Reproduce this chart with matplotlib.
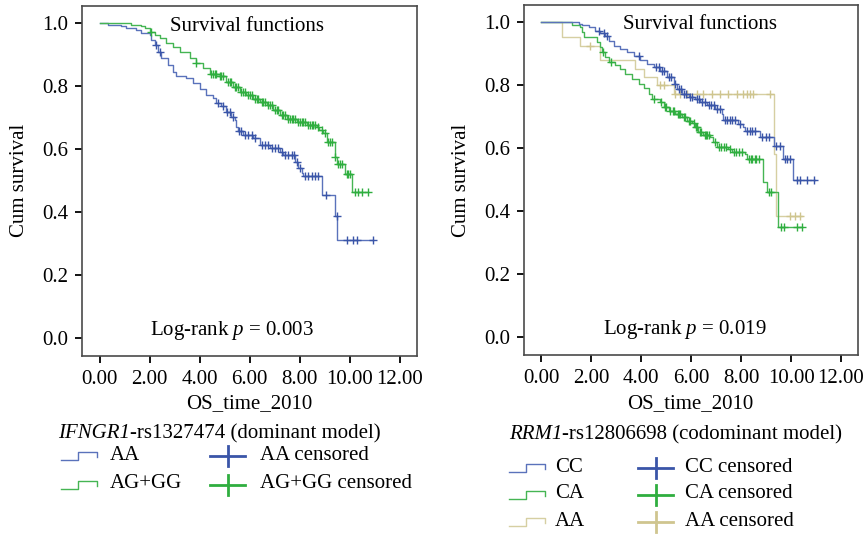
import numpy as np
import matplotlib
matplotlib.use("Agg")
import matplotlib.pyplot as plt

plt.rcParams['font.family'] = ['Liberation Serif', 'DejaVu Serif']
plt.rcParams['mathtext.fontset'] = 'custom'
plt.rcParams['mathtext.rm'] = 'Liberation Serif'
plt.rcParams['mathtext.it'] = 'Liberation Serif:italic'

# ---------------- data: left panel (IFNGR1-rs1327474) ----------------
aa_t = [0, 0.33, 0.87, 1.07, 1.47, 1.67, 2.0, 2.07, 2.2, 2.33, 2.47, 2.73, 2.93, 3.07, 3.47,
        3.73, 4.0, 4.27, 4.53, 4.67, 4.87, 5.07, 5.27, 5.4, 5.47, 5.53, 5.73, 6.13, 6.4, 6.8,
        7.2, 7.33, 7.8, 7.93, 8.07, 8.13, 8.87, 9.4, 9.49]
aa_s = [1.0, 0.995, 0.99, 0.983, 0.978, 0.967, 0.962, 0.946, 0.930, 0.909, 0.888, 0.867, 0.846,
        0.832, 0.824, 0.808, 0.792, 0.771, 0.761, 0.745, 0.735, 0.719, 0.703, 0.692, 0.671, 0.656,
        0.644, 0.634, 0.613, 0.602, 0.591, 0.581, 0.560, 0.539, 0.523, 0.513, 0.454, 0.387, 0.311]
aa_end = 10.93
aa_cens = [2.24, 2.4, 4.73, 4.93, 5.1, 5.2, 5.33, 5.57, 5.67, 5.8, 5.93, 6.07, 6.2, 6.47, 6.6,
           6.73, 6.87, 7.0, 7.13, 7.27, 7.4, 7.53, 7.67, 7.75, 7.87, 8.0, 8.2, 8.33, 8.47, 8.6,
           8.73, 9.04, 9.47, 9.87, 10.13, 10.27, 10.93]

ag_t = [0, 1.27, 1.67, 1.8, 2.0, 2.2, 2.4, 2.67, 2.93, 3.2, 3.6, 3.87, 4.13, 4.4, 4.8, 5.07,
        5.33, 5.6, 5.87, 6.13, 6.4, 6.67, 6.93, 7.2, 7.47, 7.87, 8.27, 8.67, 8.77, 8.93, 9.07,
        9.4, 9.47, 9.8, 10.1]
ag_s = [1.0, 0.995, 0.99, 0.983, 0.973, 0.962, 0.951, 0.935, 0.925, 0.909, 0.888, 0.872, 0.856,
        0.838, 0.832, 0.814, 0.796, 0.782, 0.771, 0.759, 0.750, 0.740, 0.724, 0.708, 0.694,
        0.687, 0.676, 0.670, 0.660, 0.650, 0.623, 0.576, 0.554, 0.520, 0.465]
ag_end = 10.73
ag_cens = [2.07, 3.87, 4.47, 4.53, 4.6, 4.67, 4.82, 4.87, 4.93, 5.13, 5.2, 5.27, 5.4, 5.47, 5.53,
           5.67, 5.73, 5.8, 5.93, 6.0, 6.07, 6.2, 6.27, 6.33, 6.47, 6.53, 6.6, 6.73, 6.8, 6.87,
           7.0, 7.07, 7.13, 7.27, 7.33, 7.4, 7.53, 7.6, 7.67, 7.73, 7.8, 7.93, 8.0, 8.07, 8.13,
           8.2, 8.33, 8.4, 8.47, 8.53, 8.6, 8.73, 8.87, 9.0, 9.13, 9.2, 9.27, 9.42, 9.53, 9.6,
           9.67, 9.87, 9.93, 10.0, 10.2, 10.33, 10.47, 10.73]

# ---------------- data: right panel (RRM1-rs12806698) ----------------
cc_t = [0, 1.49, 1.63, 1.89, 2.16, 2.36, 2.56, 2.69, 2.89, 3.16, 3.43, 3.69, 3.96, 4.23, 4.49,
        4.76, 5.03, 5.29, 5.43, 5.63, 5.89, 6.16, 6.36, 6.63, 6.96, 7.23, 7.29, 7.89, 8.09, 8.16,
        8.76, 9.32, 9.67, 10.07]
cc_s = [1.0, 0.995, 0.99, 0.983, 0.973, 0.965, 0.957, 0.941, 0.925, 0.914, 0.904, 0.891, 0.878,
        0.867, 0.856, 0.846, 0.824, 0.803, 0.787, 0.771, 0.761, 0.756, 0.745, 0.735, 0.724, 0.708,
        0.690, 0.676, 0.666, 0.653, 0.634, 0.607, 0.565, 0.500]
cc_end = 10.96
cc_cens = [2.29, 2.49, 2.63, 3.89, 4.6, 4.7, 4.83, 4.9, 5.1, 5.2, 5.35, 5.5, 5.57, 5.7, 5.8, 5.95,
           6.05, 6.25, 6.3, 6.45, 6.55, 6.7, 6.8, 6.9, 7.05, 7.15, 7.35, 7.45, 7.55, 7.65, 7.75,
           7.95, 8.25, 8.35, 8.45, 8.55, 8.85, 9.0, 9.1, 9.4, 9.55, 9.75, 9.85, 9.95, 10.23,
           10.36, 10.63, 10.9]

ca_t = [0, 1.23, 1.56, 1.63, 1.69, 2.23, 2.36, 2.43, 2.56, 2.69, 2.96, 3.16, 3.36, 3.63, 3.89,
        4.09, 4.29, 4.43, 4.76, 4.89, 5.09, 5.36, 5.63, 5.83, 6.03, 6.16, 6.29, 6.49, 6.76, 6.89,
        7.03, 7.49, 7.63, 8.16, 8.23, 8.89, 9.03, 9.47]
ca_s = [1.0, 0.990, 0.983, 0.967, 0.951, 0.935, 0.920, 0.904, 0.888, 0.872, 0.863, 0.851, 0.835,
        0.819, 0.803, 0.789, 0.771, 0.756, 0.745, 0.729, 0.719, 0.708, 0.697, 0.687, 0.679, 0.666,
        0.650, 0.641, 0.634, 0.618, 0.602, 0.597, 0.586, 0.581, 0.565, 0.491, 0.459, 0.348]
ca_end = 10.43
ca_cens = [2.45, 2.77, 4.5, 4.8, 4.95, 5.0, 5.15, 5.25, 5.3, 5.45, 5.5, 5.55, 5.7, 5.75, 5.9,
           5.95, 6.1, 6.2, 6.25, 6.35, 6.4, 6.55, 6.6, 6.65, 6.7, 6.95, 7.1, 7.2, 7.3, 7.4, 7.55,
           7.7, 7.8, 7.9, 8.05, 8.3, 8.4, 8.45, 8.55, 8.6, 8.7, 9.1, 9.2, 9.6, 9.73, 10.23, 10.43]

aa2_t = [0, 0.83, 1.56, 2.36, 3.76, 4.09, 4.63, 5.29, 9.33, 9.4]
aa2_s = [1.0, 0.954, 0.925, 0.878, 0.851, 0.824, 0.800, 0.770, 0.58, 0.385]
aa2_end = 10.43
aa2_cens = [1.96, 4.76, 4.89, 5.36, 5.56, 5.83, 6.23, 6.49, 6.83, 7.16, 7.49, 7.83, 8.09, 8.23,
            8.36, 8.49, 9.16, 9.96, 10.16, 10.36]

xticks = [0, 2, 4, 6, 8, 10, 12]
yticks = [0.0, 0.2, 0.4, 0.6, 0.8, 1.0]

BLUE_L, BLUE_D = '#5a72bb', '#3a55a8'
GREEN_L, GREEN_D = '#45b553', '#2fae3f'
TAN_L, TAN_D = '#d6cfa2', '#cfc58f'

W, H = 866, 537
fig = plt.figure(figsize=(W / 100, H / 100), dpi=100)
FS = 15


def px_axes(x0, x1, y0, y1):
    return fig.add_axes([x0 / W, 1 - y1 / H, (x1 - x0) / W, (y1 - y0) / H])


def km(ax, t, s, end, cens, lc, cc):
    tt = list(t) + [end]
    ss = list(s) + [s[-1]]
    ax.step(tt, ss, where='post', color=lc, lw=1.0, zorder=2)
    ta = np.array(t)
    sa = np.array(s)
    idx = np.searchsorted(ta, np.array(cens), side='right') - 1
    ax.plot(cens, sa[idx], linestyle='none', marker='+', ms=5.5, mew=1.0, color=cc, zorder=3)


def style(ax):
    ax.set_xlim(-0.70, 12.68)
    ax.set_ylim(-0.057, 1.054)
    ax.set_xticks(xticks)
    ax.set_xticklabels([f'{v:.2f}' for v in xticks])
    ax.set_yticks(yticks)
    ax.set_yticklabels([f'{v:.1f}' for v in yticks])
    ax.tick_params(direction='out', length=5, width=1.3, colors='black', labelsize=FS, pad=5)
    for sp in ax.spines.values():
        sp.set_color('#4a4a4a')
        sp.set_linewidth(1.2)


axL = px_axes(82, 417, 6, 356)
km(axL, aa_t, aa_s, aa_end, aa_cens, BLUE_L, BLUE_D)
km(axL, ag_t, ag_s, ag_end, ag_cens, GREEN_L, GREEN_D)
style(axL)
axL.text(5.9, 0.99, 'Survival functions', ha='center', va='center', fontsize=FS)
axL.text(5.3, 0.025, r'Log-rank $p$ = 0.003', ha='center', va='center', fontsize=FS)

axR = px_axes(524, 858, 5, 355)
km(axR, aa2_t, aa2_s, aa2_end, aa2_cens, TAN_L, TAN_D)
km(axR, ca_t, ca_s, ca_end, ca_cens, GREEN_L, GREEN_D)
km(axR, cc_t, cc_s, cc_end, cc_cens, BLUE_L, BLUE_D)
style(axR)
axR.text(6.36, 0.993, 'Survival functions', ha='center', va='center', fontsize=FS)
axR.text(5.75, 0.025, r'Log-rank $p$ = 0.019', ha='center', va='center', fontsize=FS)

# overlay in pixel coordinates for labels and legends
ov = fig.add_axes([0, 0, 1, 1], zorder=-1)
ov.set_xlim(0, W)
ov.set_ylim(H, 0)
ov.axis('off')
ov.patch.set_alpha(0)

ov.text(20, 180, 'Cum survival', rotation=90, ha='center', va='center', fontsize=FS)
ov.text(462, 180, 'Cum survival', rotation=90, ha='center', va='center', fontsize=FS)
ov.text(249, 404, 'OS_time_2010', ha='center', va='center', fontsize=FS)
ov.text(690, 404, 'OS_time_2010', ha='center', va='center', fontsize=FS)


def gene_title(x, y, gene, rest):
    t1 = ov.text(x, y, gene, ha='left', va='baseline', fontsize=FS, style='italic')
    fig.canvas.draw()
    bb = t1.get_window_extent()
    xe = ov.transData.inverted().transform((bb.x1, bb.y0))[0]
    ov.text(xe, y, rest, ha='left', va='baseline', fontsize=FS)


gene_title(58, 438, 'IFNGR1', '-rs1327474 (dominant model)')
gene_title(509, 439, 'RRM1', '-rs12806698 (codominant model)')


def step_icon(x, y, color):
    ov.plot([x, x + 17, x + 17, x + 36, x + 36], [y + 4, y + 4, y - 4, y - 4, y + 1],
            color=color, lw=1.0)


def cross_icon(x, y, color):
    ov.plot([x, x + 35], [y, y], color=color, lw=2.0)
    ov.plot([x + 17.5, x + 17.5], [y - 10, y + 10], color=color, lw=2.0)


left_labels = ['AA', 'AG+GG']
left_cols = [(BLUE_L, BLUE_D), (GREEN_L, GREEN_D)]
for i, (lab, (lc, dc)) in enumerate(zip(left_labels, left_cols)):
    y = 456 + 29 * i
    step_icon(61, y, lc)
    ov.text(110, y - 1, lab, ha='left', va='center', fontsize=FS)
    cross_icon(210, y, dc)
    ov.text(260, y - 1, lab + ' censored', ha='left', va='center', fontsize=FS)

right_labels = ['CC', 'CA', 'AA']
right_cols = [(BLUE_L, BLUE_D), (GREEN_L, GREEN_D), (TAN_L, TAN_D)]
for i, (lab, (lc, dc)) in enumerate(zip(right_labels, right_cols)):
    y = 468 + 27 * i
    step_icon(509, y, lc)
    ov.text(555, y - 1, lab, ha='left', va='center', fontsize=FS)
    cross_icon(638, y, dc)
    ov.text(685, y - 1, lab + ' censored', ha='left', va='center', fontsize=FS)

fig.savefig('out.png', dpi=100)
